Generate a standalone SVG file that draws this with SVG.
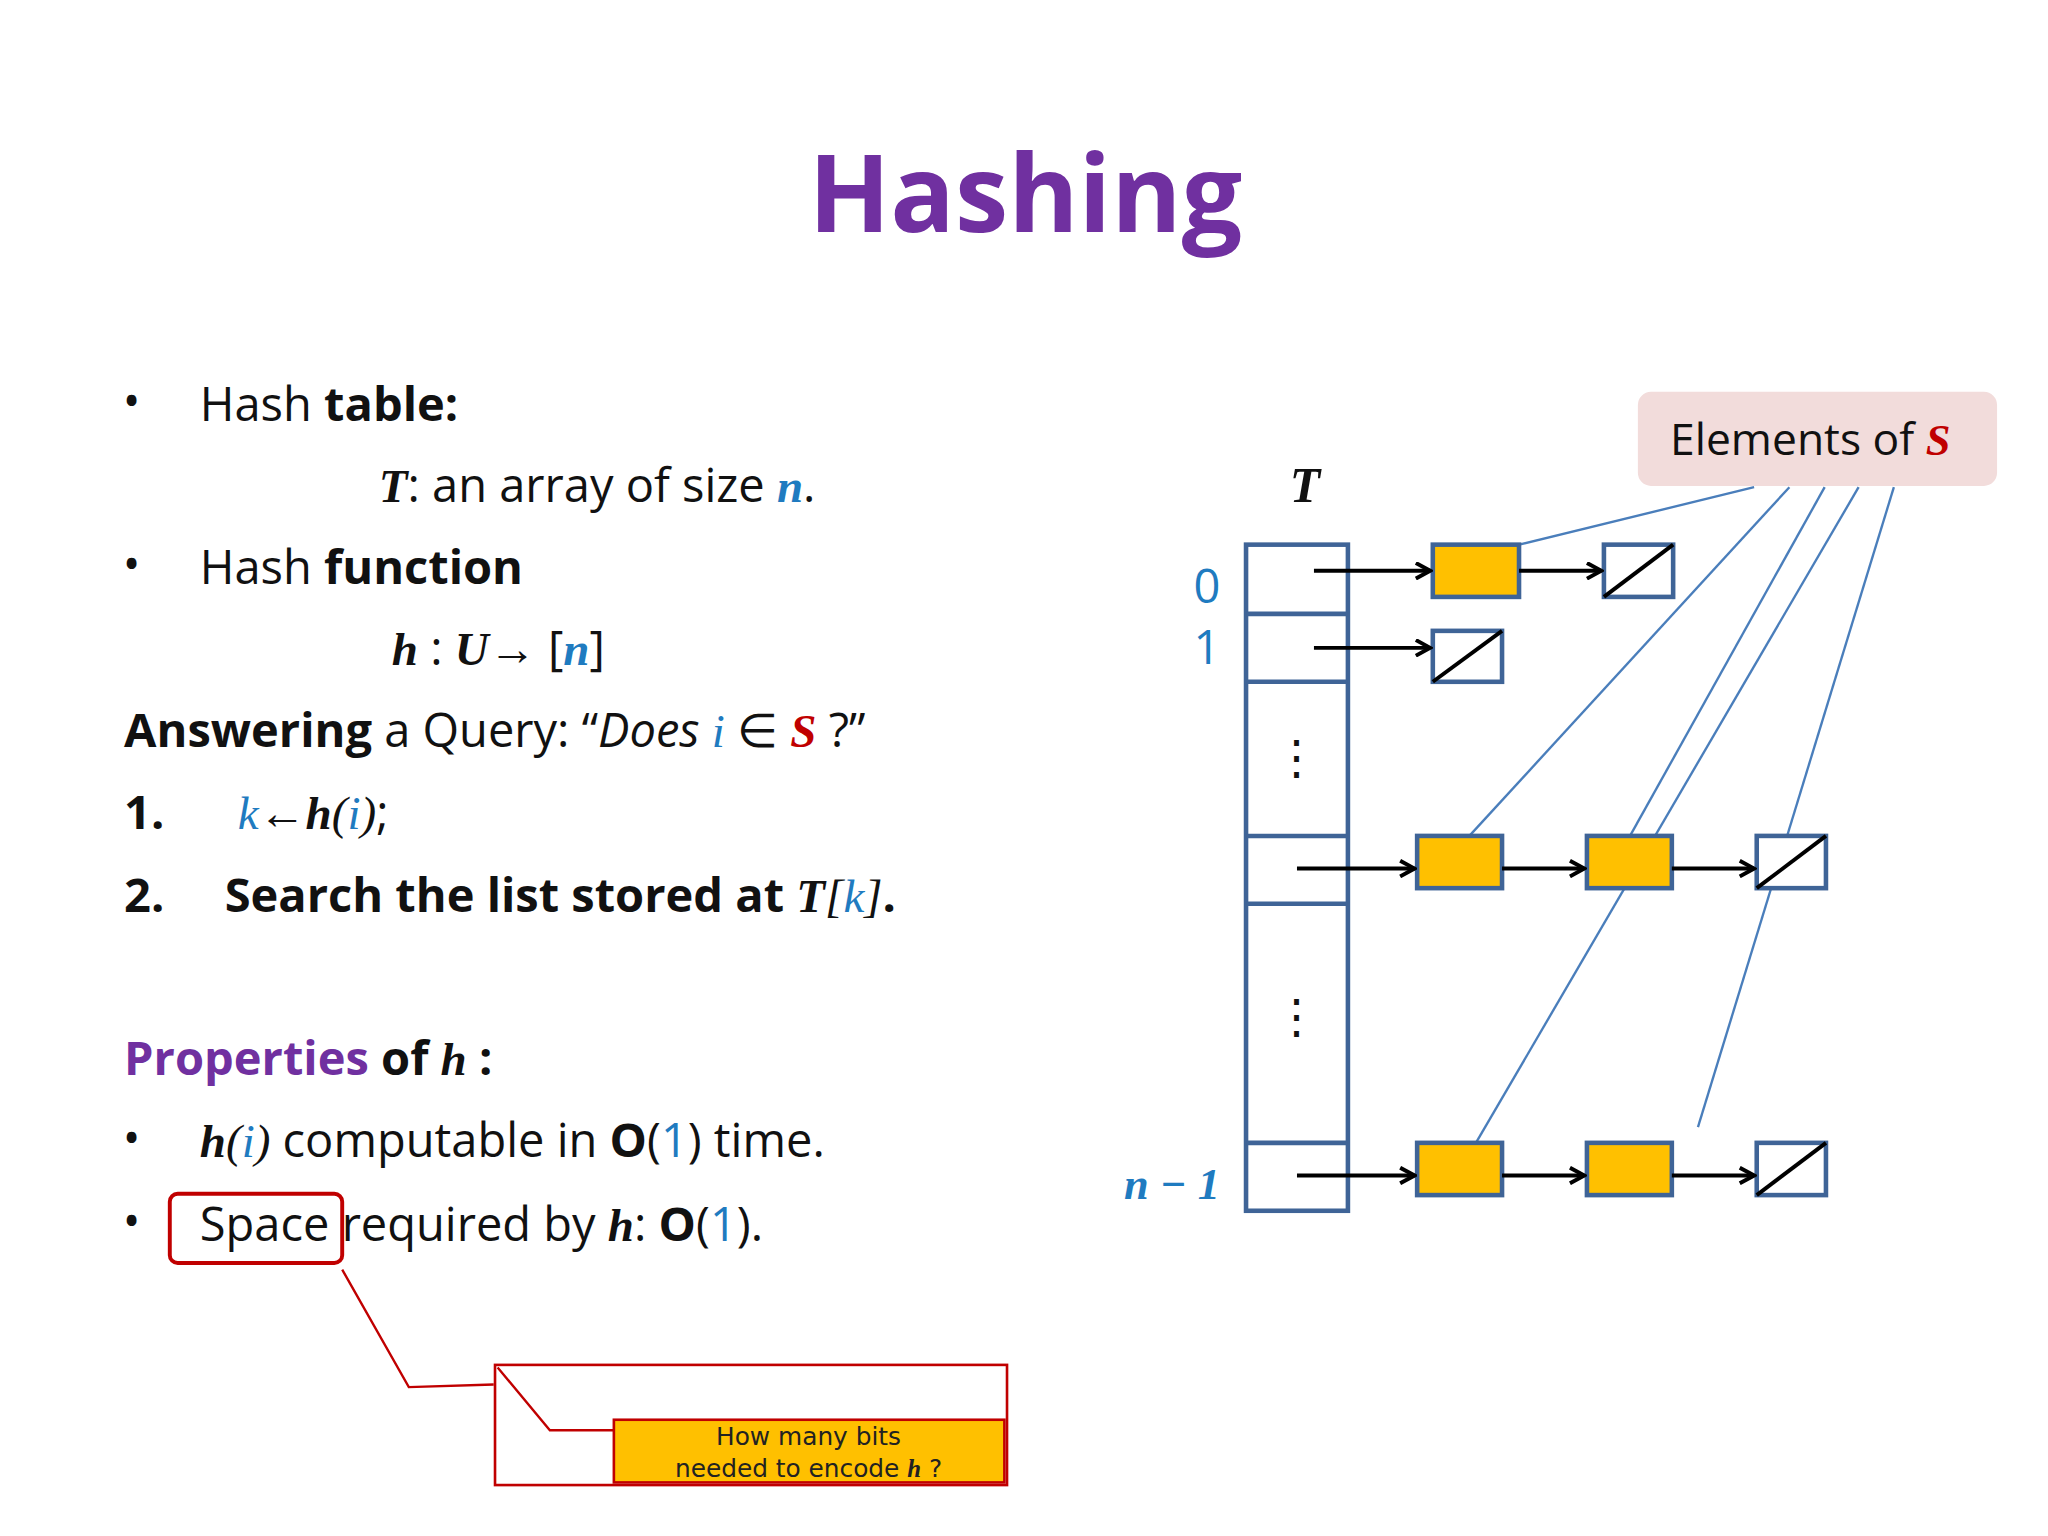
<svg xmlns="http://www.w3.org/2000/svg" width="2048" height="1536" viewBox="0 0 2048 1536">
<defs>
<style>
.t{font-family:"Open Sans","Noto Sans",sans-serif;font-size:36px;fill:#111}
.m{font-family:"Liberation Serif",serif;font-style:italic;font-weight:bold}
.mi{font-family:"Liberation Serif",serif;font-style:italic}
.b{font-weight:bold}
.bl{fill:#1f7bc0}
.tab{fill:none;stroke:#3f6497;stroke-width:3.5}
.cell{stroke:#3f6497;stroke-width:3.5}
.y{fill:#ffc000;stroke:#3f6497;stroke-width:3.5}
.nl{fill:#fff;stroke:#3f6497;stroke-width:3.5}
.ar{stroke:#000;stroke-width:3;fill:none;marker-end:url(#ah)}
.el{stroke:#4a7ebb;stroke-width:1.8;fill:none}
</style>
<marker id="ah" markerWidth="14" markerHeight="14" refX="12" refY="7" orient="auto" markerUnits="userSpaceOnUse"><path d="M1,1 L12,7 L1,13" fill="none" stroke="#000" stroke-width="3"/></marker>
</defs>
<rect width="2048" height="1536" fill="#fff"/>
<g transform="scale(1.30612)">
<text x="785" y="178" text-anchor="middle" style="font-family:'Open Sans',sans-serif;font-weight:bold;font-size:82px;fill:#7030a0">Hashing</text>
<g id="left-text" class="t">
<text x="94" y="320">•</text><text x="153" y="322">Hash <tspan class="b">table:</tspan></text>
<text x="290" y="384"><tspan class="m">T</tspan>: an array of size <tspan class="m bl">n</tspan>.</text>
<text x="94" y="445">•</text><text x="153" y="447">Hash <tspan class="b">function</tspan></text>
<text x="300" y="509"><tspan class="m">h</tspan> : <tspan class="m">U</tspan>→ [<tspan class="m bl">n</tspan>]</text>
<text x="95" y="572"><tspan class="b">Answering</tspan> a Query: “<tspan font-style="italic">Does </tspan><tspan class="mi bl">i</tspan> ∈ <tspan class="m" fill="#c00000">S</tspan> ?”</text>
<text x="95" y="635" class="b">1.</text><text x="182" y="635"><tspan class="mi bl">k</tspan><tspan class="b">←</tspan><tspan class="m">h</tspan><tspan class="mi">(</tspan><tspan class="mi bl">i</tspan><tspan class="mi">)</tspan>;</text>
<text x="95" y="698" class="b">2.</text><text x="172" y="698"><tspan class="b">Search the list stored at </tspan><tspan class="m">T</tspan><tspan class="mi">[</tspan><tspan class="mi bl">k</tspan><tspan class="mi">]</tspan><tspan class="b">.</tspan></text>
<text x="95" y="823" class="b"><tspan fill="#7030a0">Properties</tspan> of <tspan class="m">h</tspan> :</text>
<text x="94" y="884">•</text><text x="153" y="886"><tspan class="m">h</tspan><tspan class="mi">(</tspan><tspan class="mi bl">i</tspan><tspan class="mi">)</tspan> computable in <tspan class="b">O</tspan>(<tspan class="bl">1</tspan>) time.</text>
<text x="94" y="948">•</text><text x="153" y="950">Space required by <tspan class="m">h</tspan>: <tspan class="b">O</tspan>(<tspan class="bl">1</tspan>).</text>
</g>
<g id="space-highlight"><rect x="130" y="914" width="132" height="53" rx="6" fill="none" stroke="#c00000" stroke-width="3"/></g>
<g id="callout">
<polyline points="262,972 313,1062 378,1060" fill="none" stroke="#c00000" stroke-width="1.8"/>
<rect x="379" y="1045" width="392" height="92" fill="#fff" stroke="#c00000" stroke-width="2"/>
<polyline points="381,1047 421,1095 470,1095" fill="none" stroke="#c00000" stroke-width="1.8"/>
<rect x="470" y="1087" width="299" height="48" fill="#ffc000" stroke="#c00000" stroke-width="2"/>
<text x="619" y="1106" text-anchor="middle" style="font-family:'DejaVu Sans',sans-serif;font-size:19px;fill:#222">How many bits</text>
<text x="619" y="1131" text-anchor="middle" style="font-family:'DejaVu Sans',sans-serif;font-size:19px;fill:#222">needed to encode <tspan class="m">h</tspan> ?</text>
</g>
<g id="elements-label">
<rect x="1254" y="300" width="275" height="72" rx="10" fill="#f2dcdb"/>
<text x="1386" y="348" text-anchor="middle" class="t" style="font-size:34px">Elements of <tspan class="m" fill="#c00000">S</tspan></text>
</g>
<g id="table-T">
<text x="999" y="384" text-anchor="middle" class="t m" style="font-size:38px">T</text>
<rect x="954" y="417" width="78" height="510" class="tab"/>
<line x1="954" y1="470" x2="1032" y2="470" class="cell"/>
<line x1="954" y1="522" x2="1032" y2="522" class="cell"/>
<line x1="954" y1="640" x2="1032" y2="640" class="cell"/>
<line x1="954" y1="692" x2="1032" y2="692" class="cell"/>
<line x1="954" y1="875" x2="1032" y2="875" class="cell"/>
<text x="993" y="592" text-anchor="middle" class="t">⋮</text>
<text x="993" y="790" text-anchor="middle" class="t">⋮</text>
<text x="924" y="462" text-anchor="middle" class="t bl">0</text>
<text x="924" y="508" text-anchor="middle" class="t bl">1</text>
<text x="934" y="918" text-anchor="end" class="t m bl" style="font-size:34px">n − 1</text>
</g>
<g id="elements-lines">
<line x1="1343" y1="373" x2="1163" y2="417" class="el"/>
<line x1="1370" y1="373" x2="1125" y2="640" class="el"/>
<line x1="1397" y1="373" x2="1248" y2="640" class="el"/>
<line x1="1423" y1="373" x2="1130" y2="875" class="el"/>
<line x1="1450" y1="373" x2="1300" y2="863" class="el"/>
</g>
<g id="nodes">
<rect x="1097" y="417" width="66" height="40" class="y"/>
<g><rect x="1228" y="417" width="53" height="40" class="nl"/><line x1="1228" y1="457" x2="1281" y2="417" stroke="#000" stroke-width="3"/></g>
<g><rect x="1097" y="483" width="53" height="39" class="nl"/><line x1="1097" y1="522" x2="1150" y2="483" stroke="#000" stroke-width="3"/></g>
<rect x="1085" y="640" width="65" height="40" class="y"/>
<rect x="1215" y="640" width="65" height="40" class="y"/>
<g><rect x="1345" y="640" width="53" height="40" class="nl"/><line x1="1345" y1="680" x2="1398" y2="640" stroke="#000" stroke-width="3"/></g>
<rect x="1085" y="875" width="65" height="40" class="y"/>
<rect x="1215" y="875" width="65" height="40" class="y"/>
<g><rect x="1345" y="875" width="53" height="40" class="nl"/><line x1="1345" y1="915" x2="1398" y2="875" stroke="#000" stroke-width="3"/></g>
</g>
<g id="connectors">
<line x1="1006" y1="437" x2="1095" y2="437" class="ar"/>
<line x1="1163" y1="437" x2="1226" y2="437" class="ar"/>
<line x1="1006" y1="496" x2="1095" y2="496" class="ar"/>
<line x1="993" y1="665" x2="1083" y2="665" class="ar"/>
<line x1="1150" y1="665" x2="1213" y2="665" class="ar"/>
<line x1="1280" y1="665" x2="1343" y2="665" class="ar"/>
<line x1="993" y1="900" x2="1083" y2="900" class="ar"/>
<line x1="1150" y1="900" x2="1213" y2="900" class="ar"/>
<line x1="1280" y1="900" x2="1343" y2="900" class="ar"/>
</g>
</g>
</svg>
